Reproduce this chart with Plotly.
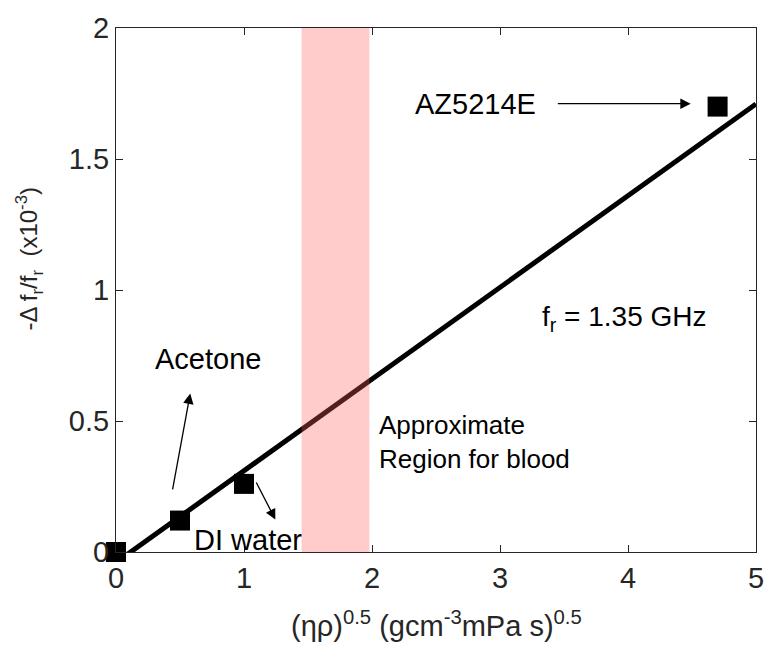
import plotly.graph_objects as go

# Measured samples
sample_names = ["Air", "Acetone", "DI water", "AZ5214E"]
sqrt_eta_rho = [0.0, 0.5, 1.0, 4.7]          # (eta*rho)^0.5
shift = [0.0, 0.12, 0.26, 1.70]              # -Δf_r/f_r (x10^-3)

# Linear fit drawn across the axis
fit_x = [0.0, 5.0]
fit_y = [-0.04, 1.71]

# Approximate range for blood
blood_range = [1.45, 1.98]

x_ticks = [0, 1, 2, 3, 4, 5]
y_ticks = [0, 0.5, 1, 1.5, 2]
y_tick_text = ["0", "0.5", "1", "1.5", "2"]

FONT = "Arial, Liberation Sans, Helvetica, sans-serif"
AX = "#262626"
FS = 29

fig = go.Figure()

fig.add_trace(go.Scatter(
    x=fit_x, y=fit_y, mode="lines",
    line=dict(color="black", width=5), showlegend=False, hoverinfo="skip",
))
fig.add_trace(go.Scatter(
    x=sqrt_eta_rho, y=shift, mode="markers", text=sample_names,
    marker=dict(symbol="square", size=20, color="black"),
    cliponaxis=False, showlegend=False,
))

fig.add_shape(type="rect", xref="x", yref="y",
              x0=blood_range[0], x1=blood_range[1], y0=0, y1=2,
              fillcolor="rgba(255,94,94,0.32)", line=dict(width=0), layer="above")

txt = dict(family=FONT, size=29, color="black")

def arrow(x_tail, y_tail, x_head, y_head):
    fig.add_annotation(x=x_head, y=y_head, ax=x_tail, ay=y_tail,
                       xref="x", yref="y", axref="x", ayref="y",
                       text="", showarrow=True, arrowhead=2, arrowsize=1.6,
                       arrowwidth=1.3, arrowcolor="black")

# Labels and pointers
fig.add_annotation(x=2.81, y=1.711, xref="x", yref="y", text="AZ5214E",
                   showarrow=False, font=txt)
arrow(3.44, 1.711, 4.49, 1.711)

fig.add_annotation(x=0.718, y=0.737, xref="x", yref="y", text="Acetone",
                   showarrow=False, font=txt)
arrow(0.44, 0.233, 0.58, 0.605)

fig.add_annotation(x=0.595, y=0.045, xref="x", yref="y", text="DI water",
                   xanchor="left", showarrow=False, font=txt)
arrow(1.09, 0.271, 1.245, 0.124)

fig.add_annotation(x=3.31, y=0.891, xref="x", yref="y",
                   text="f<sub>r</sub> = 1.35 GHz", xanchor="left",
                   showarrow=False, font=dict(family=FONT, size=28, color="black"))

fig.add_annotation(x=2.04, y=0.42, xref="x", yref="y",
                   text="Approximate<br>Region for blood", xanchor="left",
                   align="left", showarrow=False,
                   font=dict(family=FONT, size=26, color="black"))

# Axis titles
fig.add_annotation(x=-0.136, y=0.56, xref="paper", yref="paper",
                   xanchor="center", yanchor="middle",
                   text="-Δ f<sub>r</sub>/f<sub>r</sub>  (x10<sup>-3</sup>)",
                   textangle=-90, showarrow=False,
                   font=dict(family=FONT, size=24, color=AX))
fig.add_annotation(x=0.5, y=-0.137, xref="paper", yref="paper",
                   xanchor="center", yanchor="middle",
                   text="(ηρ)<sup>0.5</sup> (gcm<sup>-3</sup>mPa s)<sup>0.5</sup>",
                   showarrow=False, font=dict(family=FONT, size=FS, color=AX))

axis_common = dict(showline=True, linecolor=AX, linewidth=1.2, mirror="ticks",
                   ticks="inside", ticklen=7, tickcolor=AX, tickwidth=1.2,
                   showgrid=False, zeroline=False,
                   tickfont=dict(family=FONT, size=FS, color=AX))

fig.update_xaxes(range=[0, 5], tickvals=x_ticks, **axis_common)
fig.update_yaxes(range=[0, 2], tickvals=y_ticks, ticktext=y_tick_text, **axis_common)

fig.update_layout(
    width=776, height=646,
    margin=dict(l=116, r=12, t=20, b=94),
    plot_bgcolor="white", paper_bgcolor="white",
    font=dict(family=FONT),
)

fig.write_html("out.html")
